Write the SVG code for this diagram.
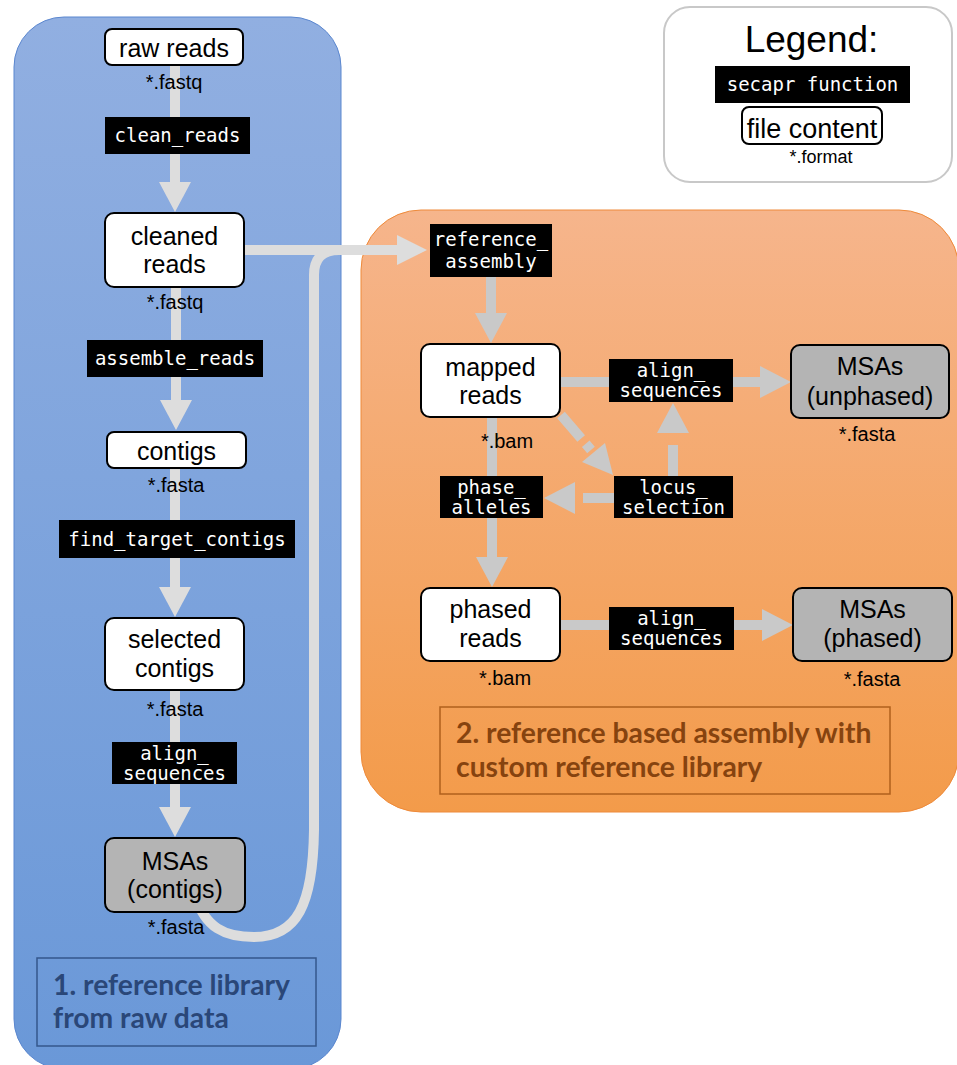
<svg xmlns="http://www.w3.org/2000/svg" width="957" height="1065" viewBox="0 0 957 1065">
<defs>
<linearGradient id="blueGrad" x1="0" y1="0" x2="0" y2="1">
<stop offset="0" stop-color="#91afe1"/>
<stop offset="1" stop-color="#6a98d8"/>
</linearGradient>
<linearGradient id="orangeGrad" x1="0" y1="0" x2="0" y2="1">
<stop offset="0" stop-color="#f6b58c"/>
<stop offset="1" stop-color="#f39b4a"/>
</linearGradient>
<style>
.node{fill:#ffffff;stroke:#000000;stroke-width:2}
.msa{fill:#b4b4b4;stroke:#000000;stroke-width:2}
.nt{font-family:"Liberation Sans",Arial,sans-serif;font-size:25px;fill:#000000;text-anchor:middle}
.ext{font-family:"Liberation Sans",Arial,sans-serif;font-size:20px;fill:#000000;text-anchor:middle}
.fn{fill:#000000}
.ft{font-family:"DejaVu Sans Mono",monospace;font-size:19px;fill:#ffffff;text-anchor:middle}
.cl{stroke:#dddddd;stroke-width:10;fill:none}
.ch{fill:#dddddd}
.cr{stroke:#c9c9c9;stroke-width:10;fill:none}
.crh{fill:#c9c9c9}
.sec{font-family:Lato,"Open Sans",sans-serif;font-weight:700;font-size:28.3px}
</style>
</defs>

<g id="panels">
<rect id="panel1" x="14" y="17" width="327" height="1052" rx="50" fill="url(#blueGrad)" stroke="#5b87cf" stroke-width="1"/>
<rect id="panel2" x="361" y="210" width="598" height="602" rx="60" fill="url(#orangeGrad)" stroke="#ee8a3a" stroke-width="1"/>
<rect id="legend-box" x="664" y="7" width="288" height="175" rx="26" fill="#ffffff" stroke="#c8c8c8" stroke-width="2"/>
</g>

<g id="section-labels">
<g id="section1">
<rect x="37" y="958" width="279" height="88" fill="none" stroke="#34578c" stroke-width="1.5"/>
<text class="sec" x="53" y="995" fill="#2a4778">1. reference library</text>
<text class="sec" x="53" y="1028" fill="#2a4778">from raw data</text>
</g>
<g id="section2">
<rect x="440" y="707" width="450" height="87" fill="none" stroke="#b0601c" stroke-width="1.5"/>
<text class="sec" x="456" y="743" fill="#86430f">2. reference based assembly with</text>
<text class="sec" x="456" y="777" fill="#86430f">custom reference library</text>
</g>
</g>

<g id="connectors">
<line class="cl" x1="175" y1="65" x2="175" y2="183"/>
<polygon class="ch" points="159,182 191,182 175,212"/>
<line class="cl" x1="176" y1="287" x2="176" y2="401"/>
<polygon class="ch" points="160,400 192,400 176,430"/>
<line class="cl" x1="175" y1="468" x2="175" y2="588"/>
<polygon class="ch" points="159,587 191,587 175,617"/>
<line class="cl" x1="175" y1="690" x2="175" y2="808"/>
<polygon class="ch" points="159,807 191,807 175,837"/>
<path class="cl" d="M 195 895 C 205 928 225 937 254 937 C 297 937 313 905 314 830 L 314 275 Q 314 250 339 250 L 398 250"/>
<line class="cl" x1="244" y1="250" x2="398" y2="250"/>
<polygon class="ch" points="397,235 397,265 427,250"/>

<line class="cr" x1="491" y1="277" x2="491" y2="314"/>
<polygon class="crh" points="475,313 507,313 491,343"/>
<line class="cr" x1="560" y1="382" x2="761" y2="382"/>
<polygon class="crh" points="760,366 760,398 791,382"/>
<line class="cr" x1="492" y1="417" x2="492" y2="558"/>
<polygon class="crh" points="476,557 508,557 492,587"/>
<line class="cr" x1="614" y1="498" x2="583" y2="498"/>
<polygon class="crh" points="575,482 575,514 544,498"/>
<line class="cr" x1="673" y1="476" x2="673" y2="445"/>
<polygon class="crh" points="657,433 689,433 673,403"/>
<line class="cr" x1="561" y1="415" x2="591" y2="450" stroke-dasharray="31 7"/>
<polygon class="crh" points="613,475 582,462 605,443"/>
<line class="cr" x1="560" y1="625" x2="763" y2="625"/>
<polygon class="crh" points="762,609 762,641 793,625"/>
</g>

<g id="functions">
<g id="fn-clean-reads"><rect class="fn" x="105" y="117" width="145" height="37"/><text class="ft" x="177.5" y="142">clean_reads</text></g>
<g id="fn-assemble-reads"><rect class="fn" x="87" y="340" width="176" height="37"/><text class="ft" x="175" y="365">assemble_reads</text></g>
<g id="fn-find-target-contigs"><rect class="fn" x="59" y="520" width="236" height="38"/><text class="ft" x="177" y="546">find_target_contigs</text></g>
<g id="fn-align-1"><rect class="fn" x="112" y="742" width="125" height="42"/><text class="ft" x="174.5" y="760">align_</text><text class="ft" x="174.5" y="780">sequences</text></g>
<g id="fn-reference-assembly"><rect class="fn" x="430" y="224" width="122" height="53"/><text class="ft" x="491" y="246">reference_</text><text class="ft" x="491" y="268">assembly</text></g>
<g id="fn-align-2"><rect class="fn" x="609" y="359" width="124" height="43"/><text class="ft" x="671" y="377">align_</text><text class="ft" x="671" y="397">sequences</text></g>
<g id="fn-locus-selection"><rect class="fn" x="614" y="476" width="119" height="42"/><text class="ft" x="673.5" y="494">locus_</text><text class="ft" x="673.5" y="514">selection</text></g>
<g id="fn-phase-alleles"><rect class="fn" x="440" y="476" width="103" height="42"/><text class="ft" x="491.5" y="494">phase_</text><text class="ft" x="491.5" y="514">alleles</text></g>
<g id="fn-align-3"><rect class="fn" x="609" y="607" width="125" height="43"/><text class="ft" x="671.5" y="625">align_</text><text class="ft" x="671.5" y="645">sequences</text></g>
</g>

<g id="nodes">
<g id="raw-reads"><rect class="node" x="105" y="29" width="138" height="36" rx="7"/><text class="nt" x="174" y="57">raw reads</text><text class="ext" x="174" y="89">*.fastq</text></g>
<g id="cleaned-reads"><rect class="node" x="105" y="213" width="139" height="74" rx="9"/><text class="nt" x="174.5" y="245">cleaned</text><text class="nt" x="174.5" y="273">reads</text><text class="ext" x="175" y="309">*.fastq</text></g>
<g id="contigs"><rect class="node" x="107" y="432" width="139" height="36" rx="7"/><text class="nt" x="176.5" y="460">contigs</text><text class="ext" x="176" y="492">*.fasta</text></g>
<g id="selected-contigs"><rect class="node" x="105" y="618" width="139" height="72" rx="9"/><text class="nt" x="174.5" y="648">selected</text><text class="nt" x="174.5" y="677">contigs</text><text class="ext" x="175" y="716">*.fasta</text></g>
<g id="msas-contigs"><rect class="msa" x="105" y="838" width="140" height="74" rx="9"/><text class="nt" x="175" y="870">MSAs</text><text class="nt" x="175" y="898">(contigs)</text><text class="ext" x="176" y="934">*.fasta</text></g>
<g id="mapped-reads"><rect class="node" x="421" y="344" width="139" height="73" rx="9"/><text class="nt" x="490.5" y="376">mapped</text><text class="nt" x="490.5" y="404">reads</text><text class="ext" x="507" y="448">*.bam</text></g>
<g id="msas-unphased"><rect class="msa" x="791" y="345" width="158" height="73" rx="9"/><text class="nt" x="870" y="375">MSAs</text><text class="nt" x="870" y="405">(unphased)</text><text class="ext" x="867" y="441">*.fasta</text></g>
<g id="phased-reads"><rect class="node" x="421" y="588" width="139" height="73" rx="9"/><text class="nt" x="490.5" y="618">phased</text><text class="nt" x="490.5" y="647">reads</text><text class="ext" x="505" y="685">*.bam</text></g>
<g id="msas-phased"><rect class="msa" x="793" y="588" width="159" height="73" rx="9"/><text class="nt" x="872.5" y="618">MSAs</text><text class="nt" x="872.5" y="647">(phased)</text><text class="ext" x="872" y="686">*.fasta</text></g>
</g>

<g id="legend">
<text x="811.5" y="52" font-family="Liberation Sans, Arial, sans-serif" font-size="37" text-anchor="middle" fill="#000000">Legend:</text>
<rect class="fn" x="715" y="66" width="195" height="37"/>
<text class="ft" x="812.5" y="91">secapr function</text>
<rect class="node" x="742" y="107" width="140" height="37" rx="7" stroke-width="1.5"/>
<text x="812" y="138" font-family="Liberation Sans, Arial, sans-serif" font-size="27" text-anchor="middle" fill="#000000">file content</text>
<text x="821" y="163" font-family="Liberation Sans, Arial, sans-serif" font-size="18" text-anchor="middle" fill="#000000">*.format</text>
</g>
</svg>
